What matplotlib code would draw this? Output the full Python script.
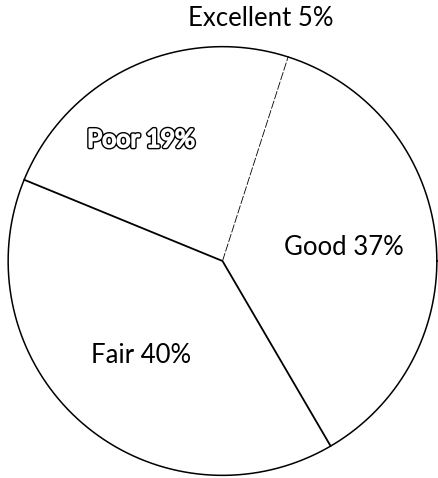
import numpy as np
import matplotlib
matplotlib.use("Agg")
import matplotlib.pyplot as plt
import matplotlib.patheffects as pe

labels = ["Excellent", "Good", "Fair", "Poor"]
values = [5, 37, 40, 19]
label_dist = [1.14, 0.57, 0.58, 0.68]
# boundary after each wedge (clockwise): 'dashed', 'solid' or None
boundary_style = ['dashed', 'solid', 'solid', None]

plt.rcParams['font.family'] = ['Lato', 'DejaVu Sans']

W, H = 438, 478
fig = plt.figure(figsize=(W / 100, H / 100), dpi=100)
cx, cy, R = 222.5, H - 261, 215
ax = fig.add_axes([(cx - R) / W, (cy - R) / H, 2 * R / W, 2 * R / H])

wedges, _ = ax.pie(values, startangle=90, counterclock=False, radius=1,
                   colors=['white'] * len(values),
                   wedgeprops=dict(edgecolor='none', linewidth=0))
ax.set_xlim(-1, 1)
ax.set_ylim(-1, 1)
ax.set_aspect('auto')
ax.axis('off')

# outline circle
t = np.linspace(0, 2 * np.pi, 400)
ax.plot(np.cos(t) * 0.997, np.sin(t) * 0.997, color='black', lw=1.1, clip_on=False)

for i, w in enumerate(wedges):
    a = np.deg2rad(w.theta1)
    st = boundary_style[i]
    if st == 'solid':
        ax.plot([0, np.cos(a)], [0, np.sin(a)], color='black', lw=1.3,
                solid_capstyle='butt')
    elif st == 'dashed':
        ax.plot([0, np.cos(a)], [0, np.sin(a)], color='black', lw=0.6,
                dashes=(10, 2))

for i, w in enumerate(wedges):
    mid = np.deg2rad((w.theta1 + w.theta2) / 2)
    x, y = label_dist[i] * np.cos(mid), label_dist[i] * np.sin(mid)
    txt = f"{labels[i]} {values[i]}%"
    if labels[i] == "Poor":
        ax.text(x, y, txt, ha='center', va='center', fontsize=18, color='white',
                clip_on=False,
                path_effects=[pe.Stroke(linewidth=3.2, foreground='black'),
                              pe.Stroke(linewidth=1.2, foreground='white'),
                              pe.Normal()])
    else:
        ax.text(x, y, txt, ha='center', va='center', fontsize=18.5, color='black',
                clip_on=False)

fig.savefig("out.png", dpi=100, facecolor='white')
